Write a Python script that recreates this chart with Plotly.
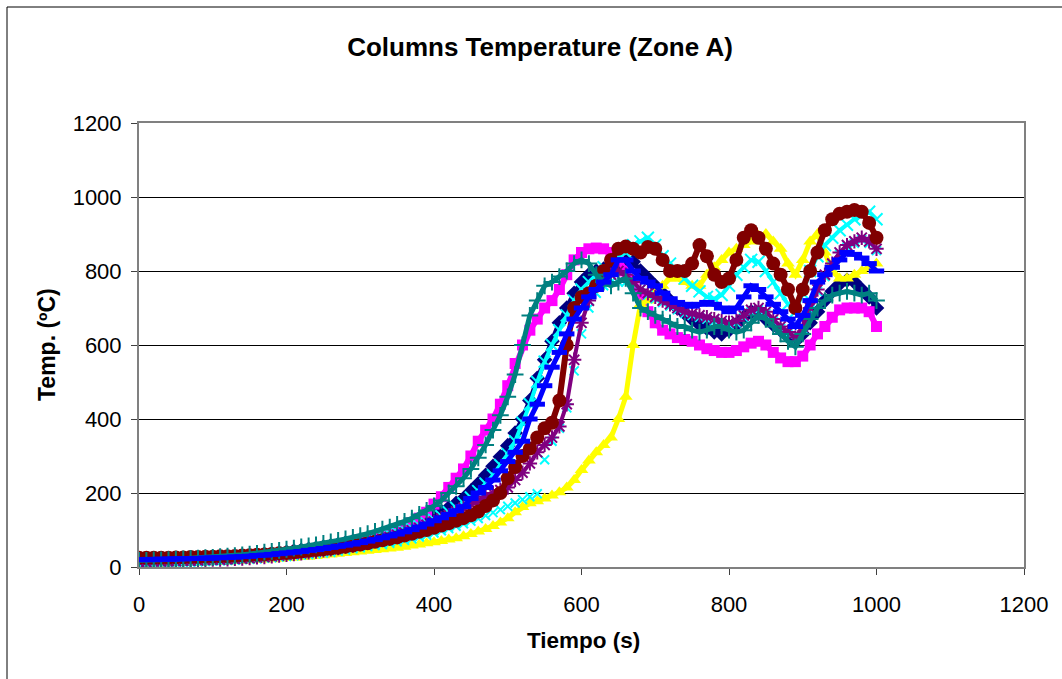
import plotly.graph_objects as go

# Time axis (s), sampled every 10 s
time_s = list(range(0, 1001, 10))

navy_vals = [18,18,19,19,20,20,21,21,22,23,
             24,25,26,27,29,30,32,34,36,38,
             40,43,45,48,51,54,57,61,65,69,
             73,77,82,87,92,98,104,111,118,128,
             140,150,160,172,185,205,225,248,272,298,
             328,362,400,450,510,560,610,660,700,740,
             770,790,800,805,810,815,830,825,800,780,
             760,740,720,700,685,670,655,645,635,630,
             640,655,675,690,685,670,655,640,625,610,
             630,660,690,720,745,765,775,770,750,730,
             700]

magenta_vals = [15,15,16,16,17,17,18,19,19,20,
                21,22,23,24,26,27,29,31,33,35,
                37,40,42,45,48,51,55,59,63,67,
                72,77,82,88,95,102,110,120,132,148,
                170,190,215,240,265,300,340,370,400,440,
                490,550,600,640,670,700,720,750,790,830,
                850,860,862,860,850,830,800,770,730,690,
                660,640,630,620,615,610,600,590,585,580,
                580,585,595,605,610,600,580,565,555,555,
                570,600,630,650,675,695,700,700,700,690,
                650]

yellow_vals = [8,8,9,9,10,10,11,11,12,13,
               14,14,15,16,17,18,19,20,21,22,
               24,25,27,28,30,32,34,36,38,40,
               42,44,46,48,50,52,55,58,61,64,
               67,70,74,78,83,89,96,103,111,120,
               132,148,162,172,178,185,193,202,215,235,
               262,288,310,330,350,400,460,600,710,720,
               740,760,780,780,770,760,760,790,810,830,
               850,860,870,880,895,900,880,860,820,790,
               830,880,900,850,800,780,780,790,800,810,
               820]

cyan_b_vals = [10,10,11,11,12,12,13,13,14,15,
               16,17,18,19,20,21,22,24,25,27,
               28,30,32,34,36,38,40,43,46,49,
               52,55,58,61,64,68,72,76,81,86,
               92,98,104,110,117,124,131,139,147,155,
               164,173,182,190,198,290,340,375,430,530,
               630,700,740,760,770,770,770,765,750,735,
               725,715,705,695,685,680,675,670,665,660,
               655,660,675,690,695,685,665,645,630,615,
               645,695,745,785,815,845,865,875,885,875,
               855]

cyan_vals = [17,17,18,18,19,19,20,20,21,22,
             22,23,24,25,27,28,30,31,33,35,
             37,39,42,44,47,50,53,56,60,64,
             68,72,76,81,86,91,97,103,110,118,
             127,137,148,160,172,188,205,225,248,275,
             305,340,390,440,500,555,600,640,680,720,
             750,770,790,810,820,840,850,870,880,890,
             870,840,820,800,780,760,745,730,725,735,
             760,790,810,830,825,800,770,740,710,690,
             740,800,840,870,890,910,925,940,950,960,
             940]

purple_vals = [14,14,15,15,16,16,17,17,18,19,
               20,20,21,22,23,24,26,27,29,31,
               33,35,37,40,42,45,48,51,55,58,
               62,66,71,76,81,87,93,99,106,114,
               122,131,140,150,160,170,180,190,200,208,
               215,235,255,280,310,330,350,380,440,560,
               660,720,760,780,790,800,790,770,750,740,
               730,720,710,700,690,685,680,675,670,665,
               660,665,680,695,700,690,670,650,635,620,
               650,700,750,790,820,850,870,880,890,880,
               860]

maroon_vals = [25,25,25,25,25,26,26,27,27,28,
               28,29,29,30,31,32,33,34,35,37,
               38,40,42,44,46,48,50,52,55,58,
               61,64,68,72,76,80,85,90,95,100,
               106,112,118,125,132,140,150,165,180,200,
               240,270,300,320,350,375,390,450,600,700,
               730,740,760,800,830,860,866,860,850,865,
               860,830,800,800,800,820,870,840,790,770,
               780,830,890,910,890,860,820,790,750,700,
               750,800,850,910,940,955,960,965,960,930,
               890]

teal_vals = [18,18,19,19,20,21,22,23,24,25,
             26,28,29,31,33,35,37,40,42,45,
             48,51,54,57,60,64,68,72,76,80,
             85,90,96,102,108,115,123,132,142,153,
             165,180,200,218,240,265,295,330,370,410,
             460,520,600,680,720,760,770,785,800,820,
             830,820,790,770,760,770,780,740,700,690,
             680,670,660,650,650,640,635,640,650,650,
             640,635,640,660,680,670,650,630,610,595,
             630,670,700,720,735,740,745,740,735,740,
             720]

blue_vals = [20,20,20,21,21,22,22,23,23,24,
             24,25,26,27,28,29,31,32,34,36,
             38,40,42,45,47,50,53,56,59,62,
             66,70,74,79,84,89,95,101,108,116,
             125,133,142,152,163,185,200,215,235,260,
             285,310,340,400,440,490,540,580,630,670,
             700,730,750,770,790,830,830,800,780,770,
             760,740,725,715,710,705,710,715,710,700,
             690,700,730,760,750,730,710,690,670,650,
             680,720,770,790,810,830,850,845,835,820,
             800]

x_ticks = [0, 200, 400, 600, 800, 1000, 1200]
y_ticks = [0, 200, 400, 600, 800, 1000, 1200]

# (name, values, color, symbol, size, marker line width, filled, line width)
series = [
    ("Navy", navy_vals, "#000080", "diamond", 12, 0, True, 5),
    ("Magenta", magenta_vals, "#FF00FF", "square", 11, 0, True, 6),
    ("Yellow", yellow_vals, "#FFFF00", "triangle-up", 12, 0, True, 5),
    ("Cyan 2", cyan_b_vals, "#00FFFF", "x-thin-open", 9, 2, False, 0),
    ("Cyan", cyan_vals, "#00FFFF", "x-thin-open", 12, 2, False, 4),
    ("Purple", purple_vals, "#800080", "asterisk-open", 12, 2, False, 4),
    ("Maroon", maroon_vals, "#800000", "circle", 14, 0, True, 6),
    ("Teal", teal_vals, "#008080", "cross-thin-open", 12, 2, False, 5),
    ("Blue", blue_vals, "#0000FF", "line-ew-open", 11, 5, False, 5),
]

fig = go.Figure()
for name, vals, color, symbol, size, lw, filled, linew in series:
    marker = dict(symbol=symbol, size=size, color=color)
    if filled:
        marker["line"] = dict(width=0)
    else:
        marker["line"] = dict(width=lw, color=color)
    fig.add_trace(go.Scatter(
        x=time_s, y=vals, name=name,
        mode="lines+markers" if linew > 0 else "markers",
        line=dict(color=color, width=max(linew, 1)),
        marker=marker, showlegend=False,
    ))

font_family = "Liberation Sans, Arial, sans-serif"
axis_color = "#808080"

fig.update_layout(
    width=1062, height=679,
    margin=dict(l=139, r=38, t=123, b=112),
    paper_bgcolor="white", plot_bgcolor="white",
    font=dict(family=font_family, color="black", size=22),
    title=dict(text="Columns Temperature (Zone A)", x=540/1062, xref="container",
               xanchor="center", y=1-47/679, yref="container", yanchor="middle",
               font=dict(size=26, weight="bold", family=font_family, color="black")),
    showlegend=False,
)

fig.update_xaxes(
    range=[0, 1200], tickvals=x_ticks, ticktext=[str(v) for v in x_ticks],
    showgrid=False, zeroline=False,
    showline=True, linecolor=axis_color, linewidth=2, mirror=True,
    ticks="outside", ticklen=6, tickcolor="#404040", tickwidth=1,
    ticklabelstandoff=11,
    tickfont=dict(size=22, family=font_family, color="black"),
)
fig.update_yaxes(
    range=[0, 1200], tickvals=y_ticks, ticktext=[str(v) for v in y_ticks],
    showgrid=True, gridcolor="black", gridwidth=1, zeroline=False,
    showline=True, linecolor=axis_color, linewidth=2, mirror=True,
    ticks="outside", ticklen=6, tickcolor="#404040", tickwidth=1,
    ticklabelstandoff=5,
    tickfont=dict(size=22, family=font_family, color="black"),
)

# Axis titles
fig.add_annotation(text="Tiempo (s)", xref="paper", yref="paper",
                   x=(583-139)/885, y=(567-640)/444, xanchor="center", yanchor="middle",
                   showarrow=False, font=dict(size=22.5, weight="bold", family=font_family))
fig.add_annotation(text="Temp. (ºC)", xref="paper", yref="paper",
                   x=(47-139)/885, y=(567-345)/444, xanchor="center", yanchor="middle",
                   textangle=-90, showarrow=False,
                   font=dict(size=23, weight="bold", family=font_family))

# Chart-area border
fig.add_shape(type="rect", xref="paper", yref="paper",
              x0=(7-139)/885, x1=(1075-139)/885, y0=(567-700)/444, y1=(567-7)/444,
              line=dict(color="black", width=1), fillcolor="rgba(0,0,0,0)", layer="below")

fig.write_html("out.html", config={"displayModeBar": False},
               post_script="document.body.style.margin='0';")
